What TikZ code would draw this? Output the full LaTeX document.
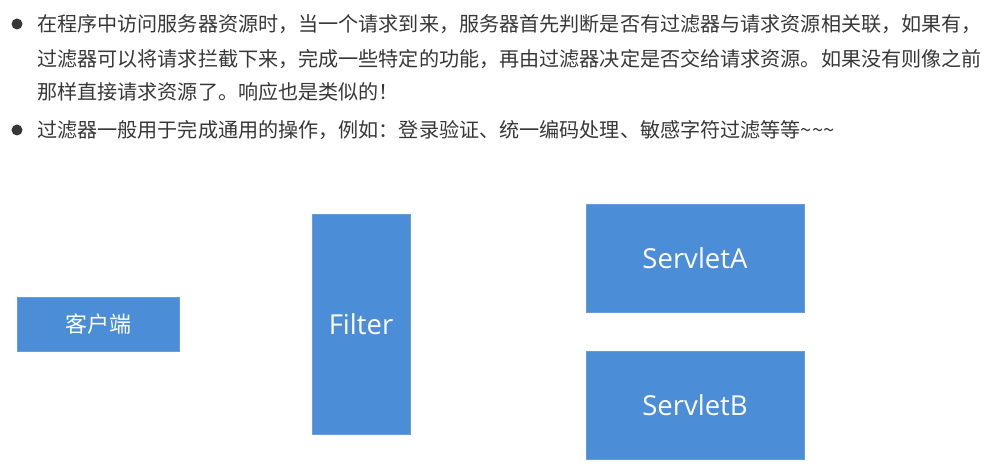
\documentclass[tikz,border=0pt]{standalone}
\usepackage{fontspec}
\setmainfont{Open Sans}
\newfontfamily\cjk{Noto Sans CJK SC}
\definecolor{boxblue}{RGB}{75,141,214}
\definecolor{txtgray}{RGB}{55,55,55}

\begin{document}
\begin{tikzpicture}[x=1pt, y=-1pt,
  box/.style={fill=boxblue, draw=boxblue!85!white, text=white, inner sep=0pt,
    font=\fontsize{27.5}{30}\selectfont},
  line/.style={anchor=west, inner sep=0pt, text=txtgray,
    font=\cjk\fontsize{20.1}{24}\selectfont}]
  \useasboundingbox (0, 0) rectangle (1005, 470);
  \coordinate (D1) at (17, 24);
  \coordinate (D2) at (17, 130);
  \coordinate (L1) at (37, 24);
  \coordinate (L2) at (37, 59);
  \coordinate (L3) at (37, 92);
  \coordinate (L4) at (37, 130);
  \fill[txtgray] (D1) circle[radius=5.5];
  \fill[txtgray] (D2) circle[radius=5.5];
  \node[line] (T1) at (L1) {在程序中访问服务器资源时，当一个请求到来，服务器首先判断是否有过滤器与请求资源相关联，如果有，};
  \node[line] (T2) at (L2) {过滤器可以将请求拦截下来，完成一些特定的功能，再由过滤器决定是否交给请求资源。如果没有则像之前};
  \node[line] (T3) at (L3) {那样直接请求资源了。响应也是类似的！};
  \node[line] (T4) at (L4) {过滤器一般用于完成通用的操作，例如：登录验证、统一编码处理、敏感字符过滤等等\textasciitilde\textasciitilde\textasciitilde};
  % boxes
  \node[box, minimum width=162, minimum height=54, font=\cjk\fontsize{22}{24}\selectfont] (K) at (98, 324) {客户端};
  \node[box, minimum width=98, minimum height=220] (F) at (361, 324) {Filter};
  \node[box, minimum width=218, minimum height=108] (SA) at (695, 258) {ServletA};
  \node[box, minimum width=218, minimum height=108] (SB) at (695, 405) {ServletB};
\end{tikzpicture}
\end{document}
